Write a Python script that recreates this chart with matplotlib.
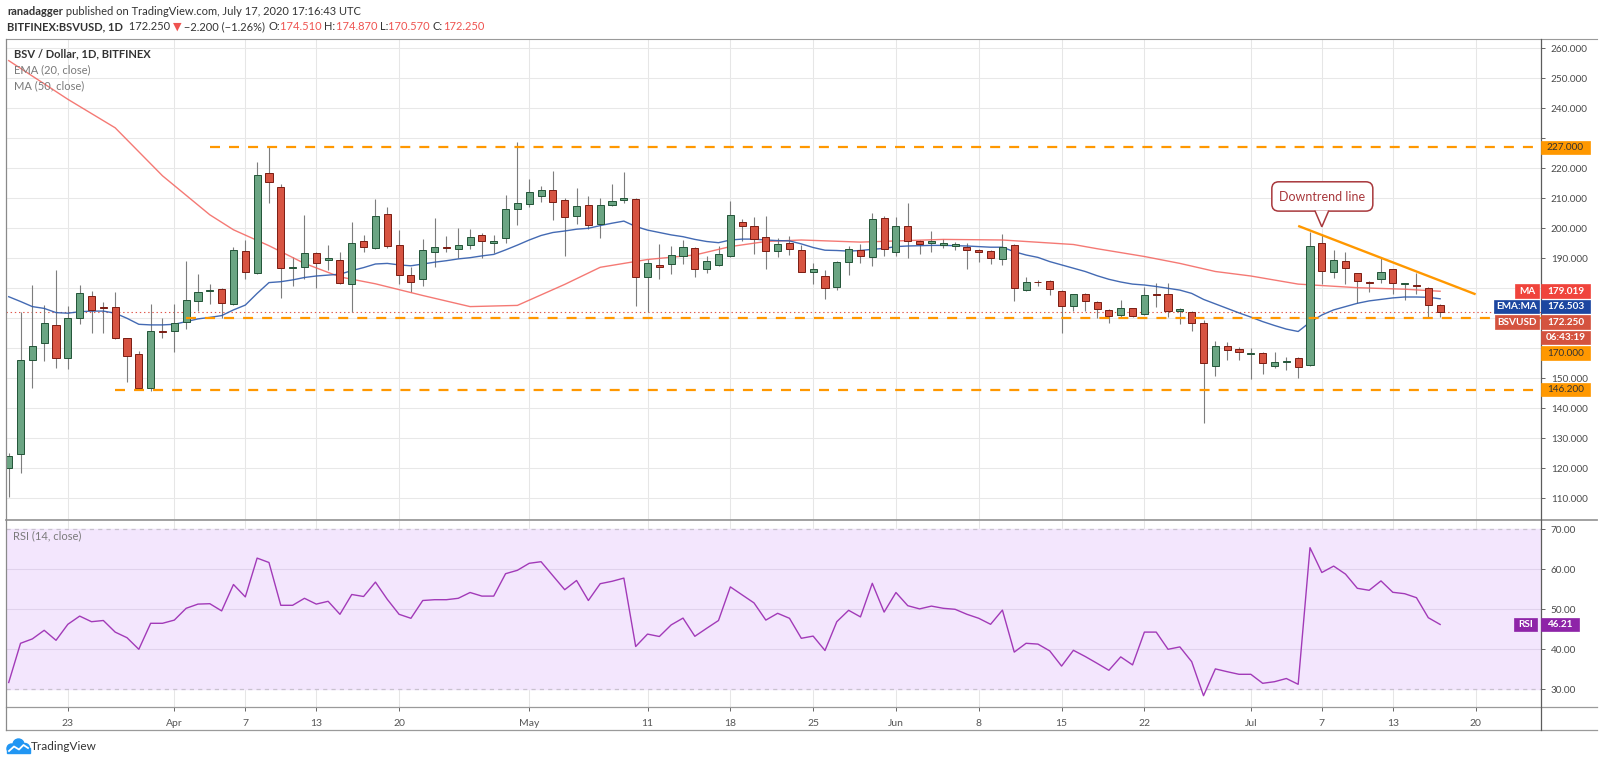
import numpy as np
import pandas as pd
import matplotlib
matplotlib.use('Agg')
import matplotlib.pyplot as plt
import matplotlib.dates as mdates
from matplotlib.patches import Rectangle, FancyBboxPatch, Polygon, Circle

plt.rcParams['font.family'] = ['Lato', 'DejaVu Sans']
plt.rcParams['lines.scale_dashes'] = False

# ---- data (BSV/USD daily, Bitfinex) ----
start_date = '2020-03-18'
opens = [120.0, 124.7, 156.1, 161.9, 167.8, 156.7, 170.2, 177.4, 173.6, 173.7,
         163.3, 158.0, 146.9, 165.7, 165.7, 168.9, 175.9, 179.1, 179.7, 174.7,
         192.4, 185.2, 218.3, 213.9, 186.7, 187.2, 191.9, 189.4, 189.4, 181.4,
         195.9, 193.3, 204.7, 194.3, 184.4, 183.0, 192.0, 193.7, 193.1, 194.3,
         197.8, 195.2, 196.7, 206.4, 208.0, 210.9, 212.7, 209.4, 204.2, 207.7,
         201.4, 207.7, 209.6, 209.8, 183.7, 187.7, 188.0, 190.9, 193.3, 186.3,
         187.7, 190.9, 202.1, 200.9, 197.0, 192.6, 195.0, 192.8, 185.3, 184.2,
         180.3, 188.7, 192.8, 190.6, 203.4, 192.0, 200.8, 195.7, 195.0, 194.4,
         194.0, 193.7, 192.6, 192.6, 189.8, 194.3, 179.4, 182.2, 182.6, 179.0,
         174.0, 178.0, 175.6, 172.8, 171.0, 173.3, 171.3, 177.8, 178.2, 172.4,
         172.2, 168.3, 154.1, 160.7, 159.8, 158.1, 158.6, 154.2, 155.6, 156.7,
         154.4, 195.2, 185.3, 189.1, 185.0, 182.0, 183.0, 186.4, 181.4, 181.1,
         180.2, 174.51]
highs = [125.0, 172.2, 181.1, 174.4, 186.1, 174.1, 181.1, 179.1, 175.6, 178.9,
         163.5, 159.2, 174.8, 170.2, 174.7, 189.1, 184.7, 181.4, 180.0, 193.9,
         196.1, 222.0, 227.2, 214.7, 190.6, 204.4, 192.0, 194.4, 192.0, 202.2,
         197.8, 209.7, 207.2, 199.4, 187.2, 196.4, 203.6, 197.4, 200.0, 199.8,
         198.3, 197.8, 211.1, 228.7, 216.3, 214.1, 219.1, 210.0, 213.3, 210.9,
         210.2, 214.7, 218.9, 210.2, 189.7, 194.8, 194.1, 196.1, 193.9, 190.8,
         194.1, 209.1, 203.1, 203.7, 204.2, 196.7, 197.4, 194.6, 188.6, 186.1,
         189.1, 194.1, 194.8, 205.0, 204.2, 203.7, 208.3, 196.1, 199.2, 196.3,
         195.6, 195.0, 193.0, 192.8, 198.1, 194.7, 183.9, 182.8, 182.8, 179.3,
         178.0, 178.3, 175.9, 173.1, 176.1, 173.6, 180.6, 181.9, 181.7, 173.3,
         172.4, 169.4, 162.4, 162.0, 160.6, 160.0, 158.8, 158.9, 157.2, 157.2,
         198.9, 198.0, 192.8, 192.0, 185.2, 182.6, 190.0, 186.6, 181.9, 185.2,
         180.4, 174.87]
lows = [110.5, 118.3, 146.9, 155.9, 153.3, 153.0, 168.0, 165.2, 165.2, 163.0,
        148.9, 146.3, 145.9, 163.3, 158.9, 166.3, 172.4, 174.8, 170.0, 174.3,
        183.0, 184.8, 208.6, 176.7, 180.8, 183.0, 180.0, 186.1, 181.3, 172.2,
        192.2, 193.0, 193.3, 181.4, 178.9, 180.9, 187.2, 192.2, 190.2, 193.1,
        190.2, 191.7, 195.2, 201.1, 207.2, 208.9, 202.8, 190.9, 201.3, 199.7,
        196.9, 207.4, 208.3, 174.2, 172.2, 183.1, 184.7, 188.0, 183.7, 185.2,
        187.5, 190.5, 195.8, 191.3, 186.4, 190.3, 191.2, 185.5, 181.4, 176.3,
        179.4, 184.4, 188.3, 187.4, 190.8, 190.9, 190.0, 191.3, 192.2, 193.3,
        192.8, 186.6, 188.7, 188.0, 187.7, 175.8, 179.2, 180.8, 177.7, 165.2,
        172.4, 172.4, 170.0, 168.3, 170.0, 170.3, 171.2, 173.7, 170.3, 168.0,
        165.9, 135.0, 150.8, 156.1, 156.1, 149.8, 151.3, 153.6, 152.8, 150.2,
        154.0, 181.4, 183.3, 181.4, 175.2, 178.7, 181.7, 178.0, 176.1, 178.1,
        170.2, 170.57]
closes = [124.2, 156.1, 160.7, 168.3, 156.7, 170.2, 178.4, 172.8, 173.3, 163.3,
          157.6, 146.9, 165.7, 165.3, 168.3, 176.1, 178.7, 179.3, 175.0, 192.8,
          185.3, 217.8, 215.3, 186.7, 186.9, 191.9, 188.3, 190.1, 181.7, 195.0,
          193.7, 204.1, 194.2, 184.4, 182.2, 192.8, 193.7, 193.6, 194.3, 197.2,
          195.9, 195.8, 206.4, 208.3, 212.0, 212.7, 208.7, 203.8, 207.3, 201.1,
          207.7, 209.0, 210.1, 183.7, 188.3, 187.2, 191.0, 193.7, 186.3, 189.1,
          191.3, 204.4, 200.9, 196.6, 192.3, 194.7, 193.2, 185.6, 186.4, 180.2,
          188.7, 193.0, 190.8, 203.2, 193.0, 200.8, 195.9, 194.7, 195.7, 195.0,
          194.7, 192.8, 192.0, 190.1, 193.9, 180.0, 182.2, 182.0, 179.7, 174.2,
          178.0, 175.7, 173.2, 170.8, 173.3, 170.8, 177.6, 177.7, 172.6, 173.1,
          168.3, 155.0, 160.7, 159.4, 158.7, 158.6, 155.0, 155.3, 155.9, 153.9,
          194.1, 185.9, 189.4, 186.9, 182.4, 181.7, 185.3, 181.9, 181.7, 180.8,
          174.45, 172.25]

ema20 = [177.2, 175.6, 173.9, 173.3, 171.9, 171.7, 172.2, 172.4, 172.4, 171.7,
         170.0, 168.0, 167.8, 167.8, 168.0, 168.9, 169.8, 170.3, 170.9, 172.8,
         174.4, 178.3, 181.9, 182.2, 182.8, 183.6, 184.1, 184.4, 184.7, 185.9,
         186.9, 188.1, 188.3, 187.8, 187.5, 188.1, 188.7, 189.2, 189.8, 190.2,
         190.8, 191.3, 192.8, 194.4, 196.1, 197.6, 198.6, 199.1, 199.7, 200.0,
         200.9, 201.7, 202.4, 200.6, 199.4, 198.6, 197.8, 197.2, 196.3, 195.6,
         195.2, 196.1, 196.4, 196.4, 196.1, 195.9, 195.8, 194.8, 193.6, 192.7,
         192.6, 192.4, 192.6, 193.0, 193.3, 193.9, 194.1, 194.2, 194.3, 194.3,
         194.2, 194.1, 193.9, 193.7, 193.7, 192.2, 191.1, 190.3, 188.9, 187.8,
         186.7, 185.6, 184.2, 183.0, 182.1, 181.4, 181.1, 180.6, 180.0, 179.4,
         178.3, 176.3, 174.8, 173.3, 171.8, 170.4, 168.9, 167.6, 166.4, 165.6,
         168.7, 171.1, 172.8, 173.9, 175.0, 175.8, 176.3, 176.8, 177.1, 177.1,
         177.0, 176.503]

ma50_dates = ['2020-03-18', '2020-03-23', '2020-03-27', '2020-03-31', '2020-04-04',
              '2020-04-06', '2020-04-09', '2020-04-12', '2020-04-15', '2020-04-18',
              '2020-04-22', '2020-04-26', '2020-04-30', '2020-05-04', '2020-05-07',
              '2020-05-11', '2020-05-15', '2020-05-18', '2020-05-21', '2020-05-24',
              '2020-05-29', '2020-06-05', '2020-06-10', '2020-06-16', '2020-06-18',
              '2020-06-22', '2020-06-25', '2020-06-28', '2020-07-01', '2020-07-05',
              '2020-07-10', '2020-07-14', '2020-07-17']
ma50 = [255.9, 243.0, 233.5, 217.5, 204.5, 199.5, 194.2, 188.3, 183.8, 181.5,
        177.6, 173.9, 174.3, 181.3, 187.0, 189.6, 191.1, 193.9, 195.6, 196.1,
        195.4, 196.3, 196.1, 194.6, 193.2, 190.6, 188.3, 185.6, 184.1, 181.4,
        180.2, 179.7, 179.019]

rsi14 = [31.7, 41.5, 42.6, 44.75, 42.25, 46.25, 48.3, 46.9, 47.2, 44.3,
         42.9, 40.0, 46.5, 46.5, 47.3, 50.25, 51.3, 51.4, 49.6, 56.2,
         53.1, 62.8, 61.7, 51.0, 51.0, 52.75, 51.3, 52.0, 48.75, 53.7,
         53.2, 56.8, 52.5, 48.75, 47.75, 52.2, 52.4, 52.4, 52.75, 54.2,
         53.3, 53.3, 58.9, 59.75, 61.5, 61.9, 58.4, 54.9, 57.2, 52.2,
         56.4, 57.0, 57.8, 40.7, 43.8, 43.2, 46.1, 47.8, 43.25, 45.25,
         47.2, 55.6, 53.6, 51.6, 47.3, 49.0, 47.75, 42.75, 43.3, 39.7,
         46.9, 49.75, 48.1, 56.5, 49.3, 54.2, 50.9, 50.1, 50.8, 50.25,
         50.0, 48.75, 47.75, 46.25, 49.8, 39.3, 41.5, 41.3, 39.6, 35.8,
         39.75, 38.2, 36.5, 34.75, 38.1, 36.1, 44.3, 44.3, 40.0, 40.6,
         36.9, 28.4, 35.1, 34.4, 33.75, 33.75, 31.5, 31.9, 32.7, 31.25,
         65.4, 59.2, 60.8, 58.8, 55.25, 54.75, 57.1, 54.25, 53.9, 52.9,
         47.9, 46.21]

# horizontal levels drawn on the chart and the day each one starts
levels = [227.0, 170.0, 146.2]
level_starts = ['2020-04-04', '2020-04-02', '2020-03-27']
trend_dates = ['2020-07-05', '2020-07-20']
trend_vals = [200.8, 178.0]
callout_date, callout_val = '2020-07-07', 200.5

tick_dates = ['2020-03-23', '2020-04-01', '2020-04-07', '2020-04-13', '2020-04-20',
              '2020-05-01', '2020-05-11', '2020-05-18', '2020-05-25', '2020-06-01',
              '2020-06-08', '2020-06-15', '2020-06-22', '2020-07-01', '2020-07-07',
              '2020-07-13', '2020-07-20']
tick_labels = ['23', 'Apr', '7', '13', '20', 'May', '11', '18', '25', 'Jun',
               '8', '15', '22', 'Jul', '7', '13', '20']
price_ticks = list(range(110, 261, 10))
rsi_ticks = [30, 40, 50, 60, 70]

# ---- layout (pixels of the 1600x763 picture) ----
W, H = 1600, 763
LEFT, RIGHT, OUTR = 5.7, 1541.0, 1597.0
TOP, SEP, BOT, TBOT = 39.3, 520.0, 706.7, 730.0
PX_DAY, FIRST_PX = 11.83, 8.7
TAG_H, TAG_STEP = 13.5, 15.5

GREEN, GREEN_EDGE = '#6ba583', '#225437'
RED, RED_EDGE = '#d75442', '#7a1c12'
ORANGE = '#ff9800'
TXT = '#4a4a4a'

o = np.array(opens); hi = np.array(highs); lo = np.array(lows); c = np.array(closes)
dates = pd.date_range(start_date, periods=len(c), freq='D')
xd = mdates.date2num(dates)
x0 = xd[0]
xmin = x0 + (LEFT - FIRST_PX) / PX_DAY
xmax = x0 + (RIGHT - FIRST_PX) / PX_DAY

fig = plt.figure(figsize=(W / 100, H / 100), dpi=100)
fig.patch.set_facecolor('white')
ax = fig.add_axes([LEFT / W, 1 - SEP / H, (RIGHT - LEFT) / W, (SEP - TOP) / H])
ax2 = fig.add_axes([LEFT / W, 1 - BOT / H, (RIGHT - LEFT) / W, (BOT - SEP) / H], sharex=ax)

# price pane limits: 230 sits at y=138.3 px, 3 px per dollar
ax.set_ylim(230 - (SEP - 138.3) / 3.0, 230 + (138.3 - TOP) / 3.0)
ax2.set_ylim(70 - (BOT - 529.3) / 4.0, 70 + (529.3 - SEP) / 4.0)
ax.set_xlim(xmin, xmax)


def py(axis, x, y):
    d = axis.transData.transform((x, y))
    return d[0], H - d[1]


# where the right-hand value tags go (stacked so they don't overlap)
_, y_ma = py(ax, xd[-1], ma50[-1])
_, y_ema = py(ax, xd[-1], ema20[-1])
_, y_c = py(ax, xd[-1], c[-1])
_, y_170 = py(ax, xd[-1], levels[1])
y_ema = max(y_ema, y_ma + TAG_STEP)
y_c = max(y_c, y_ema + TAG_STEP)
y_clock = y_c + TAG_STEP
y_170 = max(y_170, y_clock + TAG_STEP)
y_227 = py(ax, xd[0], levels[0])[1]
y_146 = py(ax, xd[0], levels[2])[1]
tag_rows = [y_227, y_ma, y_ema, y_c, y_clock, y_170, y_146]

tick_x = mdates.date2num(pd.to_datetime(tick_dates))
for a in (ax, ax2):
    for s in a.spines.values():
        s.set_visible(False)
    a.set_xticks(tick_x)
    a.yaxis.tick_right()
    a.tick_params(axis='y', length=3, width=0.7, color='#666', pad=4,
                  labelsize=7.2, labelcolor=TXT)
    for t in tick_x:
        a.axvline(t, color='#e6e6e6', lw=0.75, zorder=0)

# price labels hidden behind a tag are left out, as on the chart
price_labels = []
for v in price_ticks:
    yv = py(ax, xd[0], v)[1]
    covered = any(abs(yv - yt) < TAG_H / 2 + 3 for yt in tag_rows)
    price_labels.append('' if covered else '%.3f' % v)
ax.set_yticks(price_ticks)
ax.set_yticklabels(price_labels)
for v in price_ticks:
    ax.axhline(v, color='#e8e8e8', lw=0.75, zorder=0)
ax.tick_params(axis='x', length=0, labelbottom=False)

ax2.set_yticks(rsi_ticks)
ax2.set_yticklabels(['%.2f' % v for v in rsi_ticks])
ax2.set_xticklabels(tick_labels)
ax2.tick_params(axis='x', length=3, width=0.7, color='#666', pad=6,
                labelsize=7.5, labelcolor='#555')

# candles
up = c >= o
body_lo = np.minimum(o, c)
body_h = np.maximum(np.abs(c - o), 0.25)
ax.vlines(xd, lo, hi, color='#7d7d7d', lw=0.8, zorder=2)
ax.bar(xd[up], body_h[up], bottom=body_lo[up], width=0.6, color=GREEN,
       edgecolor=GREEN_EDGE, linewidth=0.7, zorder=3)
ax.bar(xd[~up], body_h[~up], bottom=body_lo[~up], width=0.6, color=RED,
       edgecolor=RED_EDGE, linewidth=0.7, zorder=3)

# indicators
ax.plot(mdates.date2num(pd.to_datetime(ma50_dates)), ma50, color='#f3625c',
        lw=1.0, alpha=0.85, zorder=2.5)
ax.plot(xd, ema20, color='#2f5aab', lw=1.0, alpha=0.9, zorder=2.5)

# support / resistance levels, last price line, trend line
for lv, st in zip(levels, level_starts):
    ax.hlines(lv, mdates.date2num(pd.Timestamp(st)), xmax, color=ORANGE, lw=1.6,
              linestyle=(0, (7.2, 6.5)), zorder=4)
ax.axhline(c[-1], color='#e0584d', lw=0.8, linestyle=(0, (1, 2)), zorder=1.5)
ax.plot(mdates.date2num(pd.to_datetime(trend_dates)), trend_vals, color=ORANGE,
        lw=1.7, zorder=4, solid_capstyle='butt')

# RSI pane
ax2.axhspan(30, 70, color='#f3e6fd', zorder=0)
for v in (40, 50, 60):
    ax2.axhline(v, color='#e0d2ec', lw=0.75, zorder=0.5)
for v in (30, 70):
    ax2.axhline(v, color='#c9c2cf', lw=0.9, linestyle=(0, (3, 3)), zorder=0.6)
ax2.plot(xd, rsi14, color='#a23ab8', lw=1.0, zorder=3)

# ---- overlay in pixel coordinates ----
ov = fig.add_axes([0, 0, 1, 1], zorder=10)
ov.set_xlim(0, W)
ov.set_ylim(H, 0)
ov.axis('off')
ov.patch.set_alpha(0)

frame = '#9a9a9a'
for yy, lw in ((TOP, 0.8), (SEP, 1.3), (BOT, 0.9), (TBOT, 0.9)):
    ov.plot([LEFT, OUTR], [yy, yy], color=frame, lw=lw)
ov.plot([LEFT, LEFT], [TOP, TBOT], color='#8a8a8a', lw=0.9)
ov.plot([RIGHT, RIGHT], [TOP, TBOT], color='#5c5c5c', lw=0.9)


def tag(x0_, x1_, yc, text, face, tcolor='white', weight='bold'):
    ov.add_patch(Rectangle((x0_, yc - TAG_H / 2), x1_ - x0_, TAG_H, facecolor=face,
                           edgecolor=face, lw=0.5, zorder=5))
    ov.text((x0_ + x1_) / 2, yc, text, color=tcolor, fontsize=7.2, ha='center',
            va='center', fontweight=weight, zorder=6)


tag(RIGHT, 1590, y_227, '%.3f' % levels[0], ORANGE, '#333', weight='normal')
tag(RIGHT, 1590, y_146, '%.3f' % levels[2], ORANGE, '#333', weight='normal')
tag(1515, 1539, y_ma, 'MA', '#f0443c')
tag(RIGHT, 1590, y_ma, '%.3f' % ma50[-1], '#f0443c')
tag(1494, 1539, y_ema, 'EMA:MA', '#1c46a0')
tag(RIGHT, 1590, y_ema, '%.3f' % ema20[-1], '#1c46a0')
tag(1495, 1539, y_c, 'BSVUSD', '#d4533f')
tag(RIGHT, 1590, y_c, '%.3f' % c[-1], '#d4533f')
tag(RIGHT, 1590, y_clock, '06:43:19', '#d4533f')
tag(RIGHT, 1590, y_170, '%.3f' % levels[1], ORANGE, '#333', weight='normal')

_, y_rsi = py(ax2, xd[-1], rsi14[-1])
tag(1514, 1537, y_rsi, 'RSI', '#8e24a8')
tag(RIGHT, 1579, y_rsi, '%.2f' % rsi14[-1], '#8e24a8')

# callout "Downtrend line"
tx, ty = py(ax, mdates.date2num(pd.Timestamp(callout_date)), callout_val)
bw, bh = 101, 29.3
bx, by = tx + 0.5 - bw / 2, ty - 15.7 - bh
ov.add_patch(FancyBboxPatch((bx, by), bw, bh, boxstyle='round,pad=0,rounding_size=7',
                            facecolor='white', edgecolor='#a8383c', lw=1.1, zorder=5))
ov.add_patch(Polygon([(tx - 7, by + bh - 0.6), (tx, ty), (tx + 7, by + bh - 0.6)],
                     closed=False, facecolor='white', edgecolor='#a8383c', lw=1.1, zorder=6))
ov.text(bx + bw / 2, by + bh / 2 + 0.5, 'Downtrend line', color='#a8383c', fontsize=9,
        ha='center', va='center', zorder=7)

# pane legends
ov.text(13.5, 54, 'BSV / Dollar, 1D, BITFINEX', color='#333', fontsize=8,
        fontweight='bold', va='center')
ov.text(13.5, 70, 'EMA (20, close)', color='#7a7a7a', fontsize=8, va='center')
ov.text(13.5, 85.5, 'MA (50, close)', color='#7a7a7a', fontsize=8, va='center')
ov.text(13, 536, 'RSI (14, close)', color='#7a7a7a', fontsize=8, va='center')

# header rows
renderer = fig.canvas.get_renderer()


def row(x, y, pieces, size=8):
    for txt, col, wt in pieces:
        t = ov.text(x, y, txt, color=col, fontsize=size, fontweight=wt, va='center',
                    ha='left')
        x += t.get_window_extent(renderer=renderer).width


chg = c[-1] - c[-2]
pct = chg / c[-2] * 100
dark, sal = '#333', '#ef5350'
row(7, 11.7, [('ranadagger', dark, 'bold'),
              (' published on TradingView.com, July 17, 2020 17:16:43 UTC', dark, 'normal')])
row(7, 26.5, [('BITFINEX:BSVUSD, 1D', dark, 'bold'),
              ('  %.3f ' % c[-1], dark, 'normal'),
              ('\u25BC', sal, 'normal'),
              (' \u2212%.3f (\u2212%.2f%%) ' % (-chg, -pct), dark, 'normal'),
              ('O:', dark, 'normal'), ('%.3f ' % o[-1], sal, 'normal'),
              ('H:', dark, 'normal'), ('%.3f ' % hi[-1], sal, 'normal'),
              ('L:', dark, 'normal'), ('%.3f ' % lo[-1], sal, 'normal'),
              ('C:', dark, 'normal'), ('%.3f' % c[-1], sal, 'normal')])

# TradingView logo
blue = '#2196f3'
for cx, cy, r in ((11.5, 748.5, 4.5), (18.5, 744.5, 5.5), (25, 748, 4.5)):
    ov.add_patch(Circle((cx, cy), r, color=blue, zorder=5))
ov.add_patch(Rectangle((7, 748), 22.5, 4.8, color=blue, zorder=5))
ov.plot([9, 14, 19, 23.5, 28], [751, 746.5, 749.5, 745, 748], color='white', lw=1.3,
        zorder=6)
ov.text(31, 747, 'TradingView', color='#333', fontsize=8.5, va='center')

fig.savefig('out.png', dpi=100)
